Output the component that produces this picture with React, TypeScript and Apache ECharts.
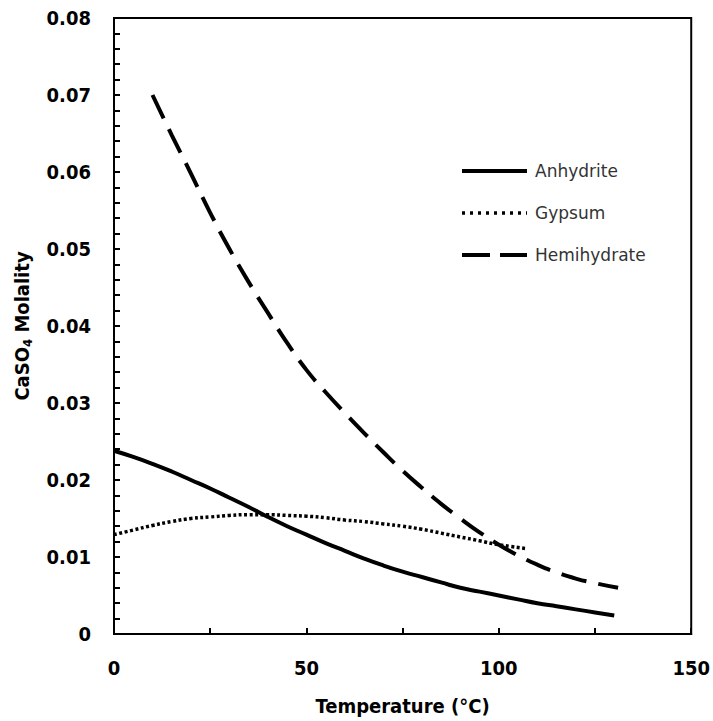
import React, { useEffect, useRef } from "react";
import * as echarts from "echarts";

const anhydriteT = [0, 5, 10, 15, 20, 25, 30, 35, 40, 45, 50, 55, 60, 65, 70, 75, 80, 85, 90, 95, 100, 105, 110, 115, 120, 125, 130];
const anhydriteM = [0.0238, 0.023, 0.0221, 0.0211, 0.02, 0.0189, 0.0177, 0.0165, 0.0152, 0.014, 0.0129, 0.0118, 0.0108, 0.0098, 0.0089, 0.0081, 0.0074, 0.0067, 0.006, 0.0055, 0.005, 0.0045, 0.004, 0.0036, 0.0032, 0.0028, 0.0024];

const gypsumT = [0, 5, 10, 15, 20, 25, 30, 35, 40, 45, 50, 55, 60, 65, 70, 75, 80, 85, 90, 95, 100, 107];
const gypsumM = [0.0129, 0.0135, 0.0141, 0.0146, 0.015, 0.0152, 0.0154, 0.0155, 0.0155, 0.0154, 0.0153, 0.0151, 0.0148, 0.0146, 0.0143, 0.014, 0.0136, 0.0131, 0.0126, 0.0121, 0.0116, 0.0111];

const hemiT = [10, 15, 20, 25, 30, 35, 40, 45, 50, 55, 60, 65, 70, 75, 80, 85, 90, 95, 100, 105, 110, 115, 120, 125, 131];
const hemiM = [0.07, 0.0648, 0.0598, 0.0547, 0.05, 0.0457, 0.0417, 0.0378, 0.0343, 0.0314, 0.0287, 0.0261, 0.0236, 0.0212, 0.019, 0.0169, 0.015, 0.0132, 0.0116, 0.0102, 0.009, 0.008, 0.0072, 0.0066, 0.006];

const seriesNames = ["Anhydrite", "Gypsum", "Hemihydrate"];

const zip = (xs: number[], ys: number[]) => xs.map((x, i) => [x, ys[i]]);

const FONT = '"DejaVu Sans Condensed", "DejaVu Sans", sans-serif';

const STYLES = [
  { width: 4, dash: null as number[] | null, legendDash: null as number[] | null },
  { width: 3.5, dash: [3, 2.5], legendDash: [3, 5] },
  { width: 4, dash: [26, 12], legendDash: [28, 10] },
];

export default function App() {
  const ref = useRef<HTMLDivElement>(null);
  useEffect(() => {
    if (!ref.current) return;
    const chart = echarts.init(ref.current, null, { renderer: "svg" });
    const axisLabel = { color: "#000", fontFamily: FONT, fontWeight: "bold" as const, fontSize: 20 };
    const legendY = [171, 213, 255];
    const legendGraphics: any[] = [];
    seriesNames.forEach((name, i) => {
      legendGraphics.push({
        type: "line",
        shape: { x1: 462, y1: legendY[i], x2: 527, y2: legendY[i] },
        style: { stroke: "#000", lineWidth: STYLES[i].width, lineDash: STYLES[i].legendDash || undefined },
      });
      legendGraphics.push({
        type: "text",
        x: 535,
        y: legendY[i],
        style: { text: name, fill: "#333", font: '17px "DejaVu Sans", sans-serif', textVerticalAlign: "middle", verticalAlign: "middle" },
      });
    });
    chart.setOption({
      animation: false,
      backgroundColor: "#fff",
      grid: { left: 114, top: 18, right: 21, bottom: 87, show: true, borderColor: "#000", borderWidth: 2, backgroundColor: "transparent" },
      graphic: legendGraphics,
      xAxis: {
        type: "value",
        min: 0,
        max: 150,
        interval: 50,
        name: "Temperature (°C)",
        nameLocation: "middle",
        nameGap: 62,
        nameTextStyle: { color: "#000", fontFamily: FONT, fontWeight: "bold", fontSize: 20 },
        axisLine: { show: true, lineStyle: { color: "#000", width: 2 } },
        axisTick: { show: true, inside: true, length: 6, lineStyle: { color: "#000", width: 2 } },
        minorTick: { show: true, splitNumber: 2, length: 6, lineStyle: { color: "#000", width: 2 } },
        splitLine: { show: false },
        axisLabel: { ...axisLabel, margin: 24 },
      },
      yAxis: {
        type: "value",
        min: 0,
        max: 0.08,
        interval: 0.01,
        name: "{a|CaSO}{s|4}{a| Molality}",
        nameLocation: "middle",
        nameGap: 80,
        nameTextStyle: {
          rich: {
            a: { color: "#000", fontFamily: FONT, fontWeight: "bold", fontSize: 20, lineHeight: 24, verticalAlign: "middle" },
            s: { color: "#000", fontFamily: FONT, fontWeight: "bold", fontSize: 13, lineHeight: 13, verticalAlign: "bottom" },
          },
        },
        axisLine: { show: true, lineStyle: { color: "#000", width: 2 } },
        axisTick: { show: true, inside: true, length: 6, lineStyle: { color: "#000", width: 2 } },
        minorTick: { show: true, splitNumber: 5, length: 6, lineStyle: { color: "#000", width: 2 } },
        splitLine: { show: false },
        axisLabel: {
          ...axisLabel,
          margin: 23,
          formatter: (v: number) => (v === 0 ? "0" : v.toFixed(2)),
        },
      },
      series: [
        { name: seriesNames[0], data: zip(anhydriteT, anhydriteM) },
        { name: seriesNames[1], data: zip(gypsumT, gypsumM) },
        { name: seriesNames[2], data: zip(hemiT, hemiM) },
      ].map((s, i) => ({
        ...s,
        type: "line",
        smooth: true,
        symbol: "none",
        lineStyle: { color: "#000", width: STYLES[i].width, type: STYLES[i].dash || "solid" },
        itemStyle: { color: "#000" },
      })),
    });
    return () => chart.dispose();
  }, []);
  return <div ref={ref} style={{ width: 713, height: 721, position: "absolute", left: 0, top: 0 }} />;
}
